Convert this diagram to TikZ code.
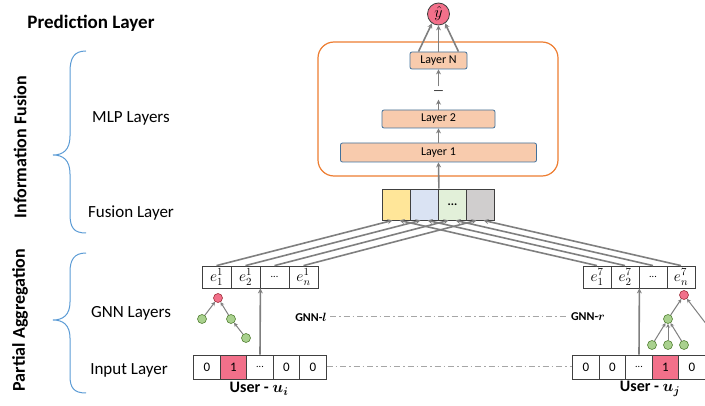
\RequirePackage{fix-cm}
\documentclass[tikz,border=0pt]{standalone}
\usepackage{fontspec}
\setmainfont{Carlito}
\usepackage{bm}
\usetikzlibrary{arrows.meta}
\definecolor{layerfill}{HTML}{F8CBAD}
\definecolor{layerborder}{HTML}{41719C}
\definecolor{mlpborder}{HTML}{ED7D31}
\definecolor{boxborder}{HTML}{404040}
\definecolor{arrgray}{HTML}{7F7F7F}
\definecolor{rfill}{HTML}{F2708A}
\definecolor{rborder}{HTML}{A0303C}
\definecolor{gfill}{HTML}{A9D18E}
\definecolor{gborder}{HTML}{548235}
\definecolor{bracecol}{HTML}{5B9BD5}
\definecolor{fyellow}{HTML}{FFE699}
\definecolor{fblue}{HTML}{DAE3F3}
\definecolor{fgreen}{HTML}{E2F0D9}
\definecolor{fgray}{HTML}{D0CECE}
\begin{document}
\begin{tikzpicture}[x=1pt,y=-1pt,
  lbl/.style={font=\fontsize{17}{20}\selectfont},
  sect/.style={font=\bfseries\fontsize{18}{21}\selectfont, rotate=90},
  layerbox/.style={draw=layerborder, fill=layerfill, rounded corners=2pt, line width=0.8pt, inner sep=0, font=\fontsize{12}{14}\selectfont},
  cell/.style={draw=boxborder, line width=0.8pt, minimum width=29pt, minimum height=22pt, inner sep=0, font=\fontsize{15.5}{17}\selectfont},
  incell/.style={cell, minimum width=26.5pt, minimum height=24pt, font=\fontsize{13}{15}\selectfont},
  fcell/.style={draw=boxborder, line width=0.8pt, minimum width=28pt, minimum height=31pt, inner sep=0},
  arr/.style={draw=arrgray, line width=1.6pt, -{Stealth[length=5pt,width=5pt]}},
  thinarr/.style={draw=arrgray, line width=1pt, -{Stealth[length=4pt,width=4pt]}},
  gnode/.style={circle, draw=gborder, fill=gfill, minimum size=9pt, inner sep=0, line width=0.6pt},
  rnode/.style={circle, draw=rborder, fill=rfill, minimum size=9pt, inner sep=0, line width=0.6pt},
  brace/.style={draw=bracecol, line width=1pt},
  dashdot/.style={draw=black!35, line width=1pt, dash pattern=on 6pt off 3pt on 1.5pt off 3pt},
  userlbl/.style={font=\bfseries\fontsize{16}{18}\selectfont},
  gnnlbl/.style={font=\bfseries\fontsize{12}{14}\selectfont},
  smalldots/.style={font=\fontsize{10}{12}\selectfont}
]
\useasboundingbox (0,0) rectangle (705,406);

% left labels
\node[font=\bfseries\fontsize{19}{22}\selectfont] (pred) at (91,23) {Prediction Layer};
\node[sect] (infofus) at (20,147) {Information Fusion};
\node[sect] (partagg) at (20,320) {Partial Aggregation};
\node[lbl] (mlplbl) at (131,118) {MLP Layers};
\node[lbl] (fuslbl) at (131,213) {Fusion Layer};
\node[lbl] (gnnlbl) at (131,313) {GNN Layers};
\node[lbl] (inplbl) at (129,370) {Input Layer};

% braces
\draw[brace] (86,51) .. controls (74,51) and (70,58) .. (70,72) -- (70,136)
  .. controls (70,150) and (63,155) .. (53,155)
  .. controls (63,155) and (70,160) .. (70,174) -- (70,214)
  .. controls (70,228) and (74,233) .. (86,233);
\draw[brace] (86,253) .. controls (74,253) and (70,260) .. (70,272) -- (70,302)
  .. controls (70,315) and (63,320) .. (53,320)
  .. controls (63,320) and (70,325) .. (70,338) -- (70,376)
  .. controls (70,388) and (74,393) .. (86,393);

% MLP block
\node[draw=mlpborder, line width=1.2pt, rounded corners=16pt, minimum width=240pt, minimum height=134pt] (mlp) at (438,109) {};
\node[layerbox, minimum width=196pt, minimum height=19pt] (l1) at (438.5,152.5) {Layer 1};
\node[layerbox, minimum width=113pt, minimum height=18pt] (l2) at (438.5,119) {Layer 2};
\node[layerbox, minimum width=57pt, minimum height=17pt] (lN) at (438.5,60.5) {Layer N};
\node[inner sep=0, minimum height=13pt, font=\fontsize{12}{14}\selectfont] (dots) at (438.5,93) {—};
\node[circle, draw=boxborder, fill=rfill, minimum size=22pt, inner sep=0, line width=0.8pt, font=\fontsize{16}{18}\selectfont] (yhat) at (438.5,14) {$\hat{y}$};

\draw[arr] (l1.north) -- (l2.south);
\draw[arr] (l2.north) -- (dots.south);
\draw[arr] (dots.north) -- (lN.south);
\draw[arr] ([xshift=-20pt]lN.north) -- (yhat.235);
\draw[arr] (lN.north) -- (yhat.south);
\draw[arr] ([xshift=20pt]lN.north) -- (yhat.305);

% fusion layer
\node[fcell, fill=fyellow] (f1) at (396.5,204.5) {};
\node[fcell, fill=fblue] (f2) at (424.5,204.5) {};
\node[fcell, fill=fgreen, font=\bfseries\fontsize{12}{14}\selectfont] (f3) at (452.5,204.5) {...};
\node[fcell, fill=fgray] (f4) at (480.5,204.5) {};
\draw[arr] (f2.north east) -- (l1.south);

% embedding rows
\node[cell] (e1l) at (216.5,277) {$e_1^1$};
\node[cell] (e2l) at (245.5,277) {$e_2^1$};
\node[cell, smalldots] (e3l) at (274.5,277) {...};
\node[cell] (e4l) at (303.5,277) {$e_n^1$};
\node[cell, minimum width=28pt] (e1r) at (597,277) {$e_1^7$};
\node[cell, minimum width=28pt] (e2r) at (625,277) {$e_2^7$};
\node[cell, minimum width=28pt, smalldots] (e3r) at (653,277) {...};
\node[cell, minimum width=28pt] (e4r) at (681,277) {$e_n^7$};

% connections embeddings -> fusion
\draw[arr] (e1l.north) -- ([xshift=-4pt]f1.south);
\draw[arr] (e2l.north) -- ([xshift=-4pt]f2.south);
\draw[arr] (e3l.north) -- ([xshift=-4pt]f3.south);
\draw[arr] (e4l.north) -- ([xshift=-4pt]f4.south);
\draw[arr] (e1r.north) -- ([xshift=3pt]f1.south);
\draw[arr] (e2r.north) -- ([xshift=3pt]f2.south);
\draw[arr] (e3r.north) -- ([xshift=3pt]f3.south);
\draw[arr] (e4r.north) -- ([xshift=3pt]f4.south);

% input rows
\node[incell] (i1l) at (207,367) {0};
\node[incell, fill=rfill] (i2l) at (233.5,367) {1};
\node[incell, smalldots] (i3l) at (260,367) {...};
\node[incell] (i4l) at (286.5,367) {0};
\node[incell] (i5l) at (313,367) {0};
\node[incell] (i1r) at (586,367) {0};
\node[incell] (i2r) at (612.5,367) {0};
\node[incell, smalldots] (i3r) at (639,367) {...};
\node[incell, fill=rfill] (i4r) at (665.5,367) {1};
\node[incell] (i5r) at (692,367) {0};

\node[userlbl] (useri) at (259,389) {User - $\bm{u_i}$};
\node[userlbl] (userj) at (650,389) {User - $\bm{u_j}$};

\draw[arr] (i3l.north) -- (e2l.south east);
\draw[arr] (i3r.north) -- (e2r.south east);

\draw[dashdot] (i5l.east) -- (i1r.west);

% GNN labels
\node[gnnlbl] (gnnl) at (311,317) {GNN-$\bm{l}$};
\node[gnnlbl] (gnnr) at (588,317) {GNN-$\bm{r}$};
\draw[dashdot] (gnnl.east) -- (gnnr.west);

% left tree
\node[rnode] (tlr) at (218,298) {};
\node[gnode] (tla) at (202,319) {};
\node[gnode] (tlb) at (231,319) {};
\node[gnode] (tlc) at (246,338) {};
\draw[thinarr] (tla) -- (tlr);
\draw[thinarr] (tlb) -- (tlr);
\draw[thinarr] (tlc) -- (tlb);

% right tree
\node[rnode] (trr) at (684,295) {};
\node[gnode] (trm) at (668,319) {};
\node[gnode] (tra) at (652,345) {};
\node[gnode] (trb) at (668,345) {};
\node[gnode] (trc) at (684,345) {};
\coordinate (tredge) at (707,325);
\draw[thinarr] (tra) -- (trm);
\draw[thinarr] (trb) -- (trm);
\draw[thinarr] (trc) -- (trm);
\draw[thinarr] (trm) -- (trr);
\draw[thinarr] (tredge) -- (trr);
\end{tikzpicture}
\end{document}
